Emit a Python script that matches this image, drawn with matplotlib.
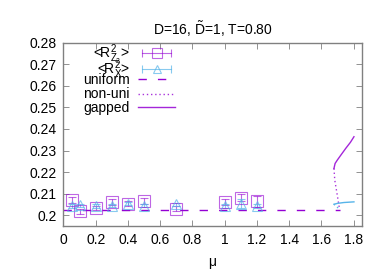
import matplotlib
matplotlib.use("Agg")
import matplotlib.pyplot as plt
from matplotlib.lines import Line2D
from matplotlib.legend import Legend
from matplotlib.legend_handler import HandlerLine2D, HandlerTuple

plt.rcParams['font.family'] = ['Liberation Sans', 'DejaVu Sans']
plt.rcParams['mathtext.fontset'] = 'custom'
plt.rcParams['mathtext.rm'] = 'Liberation Sans'
plt.rcParams['mathtext.it'] = 'Liberation Sans'
plt.rcParams['mathtext.bf'] = 'Liberation Sans'

# data
mu = [0.05, 0.1, 0.2, 0.3, 0.4, 0.5, 0.7, 1.0, 1.1, 1.2]
rz2 = [0.2070, 0.2019, 0.2034, 0.2062, 0.2054, 0.2065, 0.2031, 0.2062, 0.2082, 0.2065]
rz2_err = [0.0015, 0.0012, 0.0010, 0.0015, 0.0010, 0.0015, 0.0010, 0.0015, 0.0018, 0.0025]
rx = [0.2042, 0.2046, 0.2042, 0.2045, 0.2054, 0.2045, 0.2050, 0.2043, 0.2054, 0.2042]
rx_err = [0.0008, 0.0008, 0.0008, 0.0008, 0.0008, 0.0008, 0.0008, 0.0008, 0.0020, 0.0010]

uni_mu = [0.0, 1.713]
uni_z = [0.2026, 0.2026]

nonuni_mu = [1.678, 1.683, 1.697, 1.707, 1.713]
nonuni_z = [0.2217, 0.2163, 0.2100, 0.2054, 0.2026]
nonuni_x_mu = [1.678, 1.695, 1.713]
nonuni_x = [0.2051, 0.2040, 0.2026]

gap_mu = [1.678, 1.685, 1.699, 1.720, 1.751, 1.780, 1.802]
gap_z = [0.2217, 0.2240, 0.2256, 0.2278, 0.2310, 0.2338, 0.2364]
gap_x_mu = [1.678, 1.700, 1.740, 1.802]
gap_x = [0.2051, 0.2055, 0.2059, 0.2062]

legend_labels = [r'<R$_{Z_2}^2$>', r'<R$_X^2$>', 'uniform', 'non-uni', 'gapped']

purple = '#9400d3'
blue = '#56b4e9'

fig = plt.figure(figsize=(3.87, 2.71), dpi=100)
ax = fig.add_axes([0.164, 0.166, 0.7706, 0.6764])

ax.errorbar(mu, rz2, yerr=rz2_err, fmt='s', mfc='none', mec=purple, ecolor=purple,
            ms=8, mew=0.8, elinewidth=0.8, capsize=3, capthick=0.8, alpha=0.6)
ax.errorbar(mu, rx, yerr=rx_err, fmt='^', mfc='none', mec=blue, ecolor=blue,
            ms=7, mew=0.8, elinewidth=0.8, capsize=3, capthick=0.8, alpha=0.7)
l_uni, = ax.plot(uni_mu, uni_z, color=purple, lw=1.0, dashes=(6, 8))
l_non, = ax.plot(nonuni_mu, nonuni_z, color=purple, lw=1.0, dashes=(1, 2), alpha=0.8)
ax.plot(nonuni_x_mu, nonuni_x, color=blue, lw=1.0, dashes=(1, 2))
l_gap, = ax.plot(gap_mu, gap_z, color=purple, lw=1.0, alpha=0.85)
ax.plot(gap_x_mu, gap_x, color=blue, lw=1.0)

ax.set_xlim(0, 1.85)
ax.set_ylim(0.195, 0.28)
ax.set_xticks([0, 0.2, 0.4, 0.6, 0.8, 1.0, 1.2, 1.4, 1.6, 1.8])
ax.set_xticklabels(['0', '0.2', '0.4', '0.6', '0.8', '1', '1.2', '1.4', '1.6', '1.8'])
ax.set_yticks([0.2, 0.21, 0.22, 0.23, 0.24, 0.25, 0.26, 0.27, 0.28])
ax.set_yticklabels(['0.2', '0.21', '0.22', '0.23', '0.24', '0.25', '0.26', '0.27', '0.28'])
ax.tick_params(direction='in', length=4, width=0.6, color='#808080', labelsize=10,
               top=True, right=True, pad=5)
for s in ax.spines.values():
    s.set_color('#808080')
    s.set_linewidth(1.0)

ax.set_xlabel('μ', fontsize=10, labelpad=6)
ax.set_title(r'D=16, $\tilde{\mathrm{D}}$=1, T=0.80', fontsize=10, pad=0, y=1.042)

# gnuplot-style legend samples for error bar series
def eb_handle(color, marker, ms, alpha):
    line = Line2D([], [], color=color, lw=0.8, marker='|', ms=6, mew=0.8, alpha=alpha)
    mark = Line2D([], [], color=color, lw=0, marker=marker, ms=ms, mfc='none',
                  mec=color, mew=0.8, alpha=alpha)
    return line, mark

c1, m1 = eb_handle(purple, 's', 7, 0.6)
c2, m2 = eb_handle(blue, '^', 6, 0.7)
hmap = {c1: HandlerLine2D(numpoints=2), c2: HandlerLine2D(numpoints=2),
        m1: HandlerLine2D(numpoints=1), m2: HandlerLine2D(numpoints=1),
        tuple: HandlerTuple(ndivide=1)}

handles = [(c1, m1), (c2, m2), l_uni, l_non, l_gap]
row_y = [0.935, 0.853, 0.796, 0.718, 0.642]
for h, lab, yy in zip(handles, legend_labels, row_y):
    lg = Legend(ax, [h], [lab], handler_map=hmap, loc='center right', markerfirst=False,
                frameon=False, fontsize=10, handlelength=2.66, borderpad=0.0,
                borderaxespad=0.0, handletextpad=0.58,
                bbox_to_anchor=(0.374, yy), bbox_transform=ax.transAxes)
    ax.add_artist(lg)

fig.savefig('out.png', dpi=100)
